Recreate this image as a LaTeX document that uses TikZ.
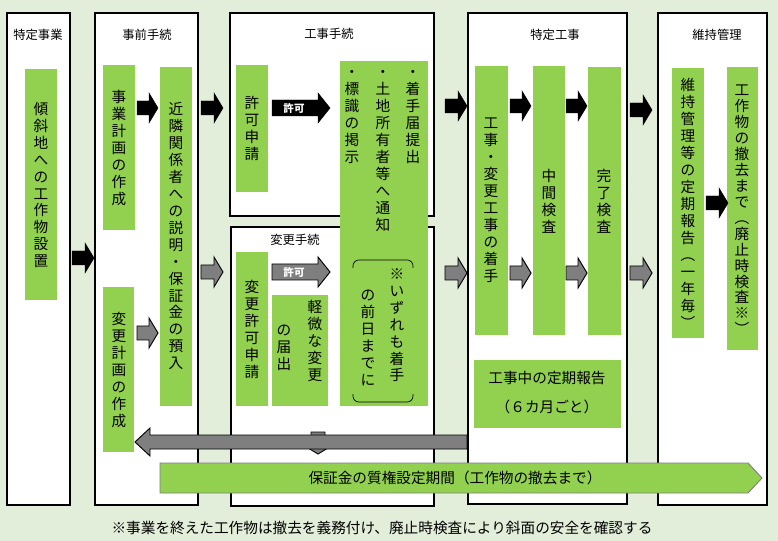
\documentclass[tikz,border=0pt]{standalone}
\usepackage{fontspec}
\setmainfont{Noto Sans CJK JP}
\usetikzlibrary{calc}
\definecolor{bgcol}{HTML}{E3EEDA}
\definecolor{boxgreen}{HTML}{92D050}
\definecolor{arrgray}{HTML}{7F7F7F}
\makeatletter
\newcommand\tate[2][14.5pt]{\vbox{\baselineskip=#1\tate@a#2\@nil}}
\def\tate@a#1{\ifx\@nil#1\else\hbox to 13pt{\hss#1\hss}\expandafter\tate@a\fi}
\makeatother
\tikzset{
  panel/.style={draw=black, line width=1pt, fill=white},
  gbox/.style={fill=boxgreen},
  vtext/.style={inner sep=0pt, font=\fontsize{12.5}{14.5}\selectfont},
  ttl/.style={inner sep=0pt, font=\fontsize{10.5}{12}\selectfont},
  blkarr/.style={fill=black, draw=black},
  grayarr/.style={fill=arrgray, draw=black, line width=0.8pt},
  pics/blk/.style={code={
    \draw[pic actions] (0,-7) -- (#1-9,-7) -- (#1-9,-15) -- (#1,0) -- (#1-9,15) -- (#1-9,7) -- (0,7) -- cycle;}},
  pics/kyoka/.style={code={
    \draw[pic actions] (0,-8) -- (46,-8) -- (46,-15) -- (58,0) -- (46,15) -- (46,8) -- (0,8) -- cycle;
    \node[text=white, inner sep=0pt, font=\bfseries\fontsize{9}{10}\selectfont] at (22,0) {許可};}}
}
\begin{document}
\begin{tikzpicture}[x=0.03cm, y=-0.03cm]
  \fill[bgcol] (0,0) rectangle (778,541);
  \useasboundingbox (0,0) rectangle (778,541);
  % panels
  \draw[panel] (7,13) rectangle (70,505);
  \draw[panel] (95,13) rectangle (198,505);
  \draw[panel] (230,13) rectangle (434,216);
  \draw[panel] (231,227) rectangle (434,506);
  \draw[panel] (468,13) rectangle (627,504);
  \draw[panel] (658,13) rectangle (767,505);
  \node[ttl] (tTokutei) at (38,35) {特定事業};
  \node[ttl] (tJizen) at (147,35) {事前手続};
  \node[ttl] (tKoji) at (329,34) {工事手続};
  \node[ttl] (tHenko) at (295,240) {変更手続};
  \node[ttl] (tTokuKoji) at (555,35) {特定工事};
  \node[ttl] (tIji) at (717,35) {維持管理};
  % green boxes
  \fill[gbox] (25,69) rectangle (57,300);
  \fill[gbox] (103,65) rectangle (135,230);
  \fill[gbox] (103,287) rectangle (134,452);
  \fill[gbox] (160,67) rectangle (192,406);
  \fill[gbox] (236,65) rectangle (268,192);
  \fill[gbox] (340,61) rectangle (428,406);
  \fill[gbox] (236,252) rectangle (268,406);
  \fill[gbox] (272,295) rectangle (328,406);
  \fill[gbox] (475,66) rectangle (508,335);
  \fill[gbox] (533,66) rectangle (565,335);
  \fill[gbox] (588,67) rectangle (621,335);
  \fill[gbox] (474,360) rectangle (621,428);
  \fill[gbox] (672,68) rectangle (704,338);
  \fill[gbox] (727,67) rectangle (758,350);
  % vertical texts
  \node[vtext] (keisha) at (41,185) {\tate{傾斜地への工作物設置}};
  \node[vtext] (jigyo) at (119,148) {\tate{事業計画の作成}};
  \node[vtext] (henkei) at (119,370) {\tate{変更計画の作成}};
  \node[vtext] (kinrin) at (176,236) {\tate{近隣関係者への説明・保証金の預入}};
  \node[vtext] (kyokashinsei) at (252,128) {\tate{許可申請}};
  \node[vtext, anchor=north] (chakute) at (413,70) {\tate{・着手届提出}};
  \node[vtext, anchor=north] (tsuchi) at (383,70) {\tate{・土地所有者等へ通知}};
  \node[vtext, anchor=north] (hyoshiki) at (352,70) {\tate{・標識の掲示}};
  \node[vtext, anchor=north] (izure) at (397,268) {\tate{※いずれも着手}};
  \node[vtext, anchor=north] (zenjitsu) at (368,290) {\tate{の前日までに}};
  \node[vtext] (henkyoka) at (252,329) {\tate{変更許可申請}};
  \node[vtext, anchor=north] (keibi) at (315,300) {\tate{軽微な変更}};
  \node[vtext, anchor=north] (todokede) at (284,325) {\tate{の届出}};
  \node[vtext] (chakushu) at (491,200) {\tate{工事・変更工事の着手}};
  \node[vtext] (chukan) at (549,201) {\tate{中間検査}};
  \node[vtext] (kanryo) at (604,201) {\tate{完了検査}};
  \node[vtext] (teiki) at (688,203) {\tate{維持管理等の定期報告︵一年毎︶}};
  \node[vtext] (tekkyo) at (742,210) {\tate[13.6pt]{工作物の撤去まで︵廃止時検査※︶}};
  \node[vtext] (kojichu) at (547,378) {工事中の定期報告};
  \node[vtext] (rokkagetsu) at (547,407) {（６カ月ごと）};
  % bracket
  \draw[line width=0.6pt, rounded corners=5pt] (353,268) -- (353,260) -- (413,260) -- (413,268);
  \draw[line width=0.6pt, rounded corners=5pt] (353,394) -- (353,402) -- (413,402) -- (413,394);
  % block arrows, black row
  \pic[blkarr] at (72,258) {blk=22};
  \pic[blkarr] at (137,108) {blk=21};
  \pic[blkarr] at (201,108) {blk=22};
  \pic[blkarr] at (272,108) {kyoka};
  \pic[blkarr] at (445,106) {blk=22};
  \pic[blkarr] at (510,106) {blk=21};
  \pic[blkarr] at (566,106) {blk=21};
  \pic[blkarr] at (630,110) {blk=22};
  \pic[blkarr] at (706,203) {blk=22};
  % block arrows, gray row
  \pic[grayarr] at (201,272) {blk=22};
  \pic[grayarr] at (137,333) {blk=21};
  \pic[grayarr] at (272,272) {kyoka};
  \pic[grayarr] at (445,273) {blk=22};
  \pic[grayarr] at (510,273) {blk=21};
  \pic[grayarr] at (566,273) {blk=21};
  \pic[grayarr] at (630,273) {blk=22};
  \pic[grayarr, rotate=-90] at (318,432) {blk=22};
  % long return arrow
  \draw[grayarr] (467,435) -- (150,435) -- (150,428) -- (135,442) -- (150,456) -- (150,449) -- (467,449) -- cycle;
  % guarantee period
  \draw[fill=boxgreen, draw=arrgray, line width=0.8pt] (160,463) -- (748,463) -- (762,478) -- (748,493) -- (160,493) -- cycle;
  \node[vtext] (hosho) at (455,478) {保証金の質権設定期間（工作物の撤去まで）};
  \node[vtext] (note) at (382,528) {※事業を終えた工作物は撤去を義務付け、廃止時検査により斜面の安全を確認する};
\end{tikzpicture}
\end{document}
